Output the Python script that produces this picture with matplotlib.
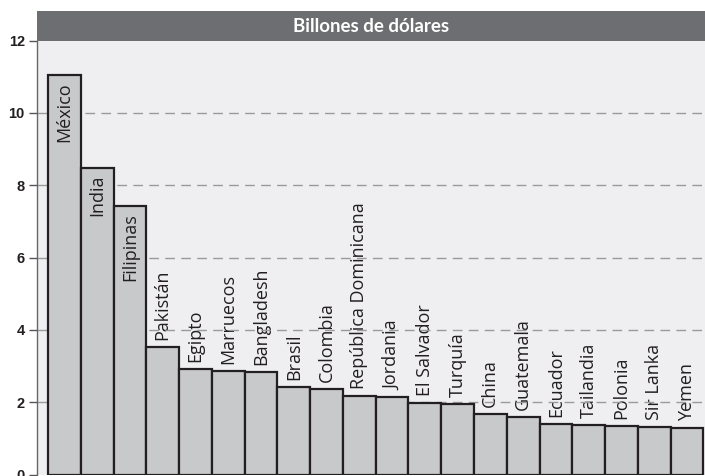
import matplotlib
matplotlib.use("Agg")
import matplotlib.pyplot as plt
from matplotlib.patches import Rectangle

countries = ["México", "India", "Filipinas", "Pakistán", "Egipto", "Marruecos",
             "Bangladesh", "Brasil", "Colombia", "República Dominicana", "Jordania",
             "El Salvador", "Turquía", "China", "Guatemala", "Ecuador", "Tailandia",
             "Polonia", "Sir Lanka", "Yemen"]
values = [11.05, 8.49, 7.43, 3.54, 2.91, 2.87, 2.84, 2.43, 2.37, 2.17, 2.14,
          1.98, 1.94, 1.67, 1.58, 1.41, 1.38, 1.34, 1.31, 1.28]
yticks = [0, 2, 4, 6, 8, 10, 12]
title = "Billones de dólares"

W, H = 705, 476
fig = plt.figure(figsize=(W / 100, H / 100), dpi=100)
fig.patch.set_facecolor("white")

left = 37 / W
bottom = (H - 474.5) / H
top = (H - 40.7) / H
ax = fig.add_axes([left, bottom, 1 - left, top - bottom])
ax.set_facecolor("#efeff1")

x = list(range(len(countries)))
ax.bar(x, values, width=1.0, color="#c8c9cb", edgecolor="#231f20",
       linewidth=1.6, zorder=3)

ax.set_xlim(-0.836, 19.55)
ax.set_ylim(0, 12)
ax.set_yticks(yticks)
ax.set_yticklabels([str(t) for t in yticks],
                   fontfamily=["Liberation Sans Narrow", "Liberation Sans"],
                   fontsize=10.5, fontweight="bold", color="#231f20")
ax.tick_params(axis="y", length=5.8, width=1.0, color="#555555", pad=3)
ax.set_xticks([])
for s in ["top", "right", "bottom"]:
    ax.spines[s].set_visible(False)
ax.spines["left"].set_color("#666666")
ax.spines["left"].set_linewidth(1.0)

for yv in yticks[1:-1]:
    ax.axhline(yv, color="#9a9a9a", linewidth=1.0, linestyle=(0, (7, 4.5)),
               zorder=2)

font = ["Open Sans", "DejaVu Sans"]
for i, (c, v) in enumerate(zip(countries, values)):
    if i < 3:
        ax.annotate(c, (i, v), xytext=(0, -5), textcoords="offset points",
                    rotation=90, ha="center", va="top", fontsize=13,
                    family=font, color="#231f20", zorder=4)
    else:
        ax.annotate(c, (i, v), xytext=(0, 5), textcoords="offset points",
                    rotation=90, ha="center", va="bottom", fontsize=13,
                    family=font, color="#231f20", zorder=1)

# title bar
tb_bottom = top
tb_top = (H - 11.3) / H
fig.patches.append(Rectangle((left, tb_bottom), 1 - left, tb_top - tb_bottom,
                             transform=fig.transFigure, facecolor="#6d6e71",
                             edgecolor="none", zorder=0))
fig.text((left + 1) / 2, (tb_bottom + tb_top) / 2, title, color="white",
         fontsize=13.5, fontweight="bold", family=["Lato", "DejaVu Sans"],
         ha="center", va="center")

fig.savefig("out.png", dpi=100)
